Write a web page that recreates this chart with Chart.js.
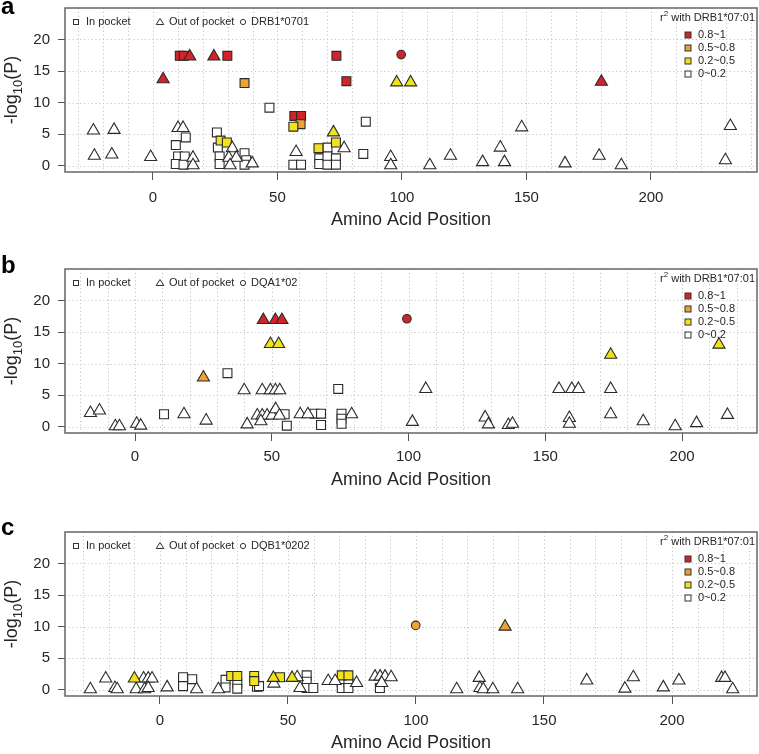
<!DOCTYPE html>
<html>
<head>
<meta charset="utf-8">
<script src="https://cdn.jsdelivr.net/npm/chart.js@4.4.1/dist/chart.umd.min.js"></script>
<style>
html, body { margin: 0; padding: 0; background: #fff; }
#wrap { position: relative; width: 759px; height: 754px; overflow: hidden; }
canvas { position: absolute; left: 0; }
</style>
</head>
<body>
<div id="wrap">
  <canvas id="chartA" width="759" height="245" style="top:0px"></canvas>
  <canvas id="chartB" width="759" height="260" style="top:245px"></canvas>
  <canvas id="chartC" width="759" height="249" style="top:505px"></canvas>
</div>
<script>
const X_TICKS = [0, 50, 100, 150, 200];
const Y_TICKS = [0, 5, 10, 15, 20];
const SHAPE_LABELS = ["In pocket", "Out of pocket"];
const R2_LEGEND = ["0.8~1", "0.5~0.8", "0.2~0.5", "0~0.2"];
const R2_LEVELS = [3, 2, 1, 0];   // r2 class: 3 = 0.8~1, 2 = 0.5~0.8, 1 = 0.2~0.5, 0 = 0~0.2

// ---- panel a : DRB1*0701 ----
const aAllele = "DRB1*0701";
const aPocketPos  = [9.2, 13.2, 10.1, 12.8, 9.2, 12.3, 25.7, 26.1, 26.8, 26.8, 36.8, 37.5, 36.8, 46.8, 56.4, 59.5, 66.8, 66.8, 70.1, 70.1, 70.1, 73.5, 73.5, 84.5, 85.5,
                     10.8, 12.4, 29.9, 56.8, 59.5, 73.7, 77.7, 36.8, 59.3, 56.4, 27.2, 29.7, 66.5, 73.5];
const aPocketLogP = [3.3, 4.5, 1.5, 1.5, 0.3, 0.2, 5.3, 2.9, 1.5, 0.3, 2.0, 0.9, 0.2, 9.2, 0.2, 0.2, 1.2, 0.3, 2.9, 1.5, 0.2, 1.2, 0.2, 1.9, 7.0,
                     17.4, 17.4, 17.4, 7.9, 7.9, 17.4, 13.4, 13.1, 6.6, 6.2, 4.0, 3.7, 2.8, 3.7];
const aPocketR2   = [0, 0, 0, 0, 0, 0, 0, 0, 0, 0, 0, 0, 0, 0, 0, 0, 0, 0, 0, 0, 0, 0, 0, 0, 0,
                     3, 3, 3, 3, 3, 3, 3, 2, 2, 1, 1, 1, 1, 1];
const aOutPos  = [-23.9, -15.6, -23.5, -16.5, -0.9, 10.1, 12.1, 16.1, 16.1, 31.9, 30.5, 33.5, 31.0, 39.9, 57.5, 76.8, 95.5, 95.5, 111.2, 119.5, 132.4, 139.5, 141.2, 148.1, 165.5, 179.2, 188.1, 229.9, 231.9,
                  4.1, 14.8, 24.5, 180.1, 72.5, 97.9, 103.5];
const aOutLogP = [5.6, 5.7, 1.6, 1.8, 1.4, 6.0, 6.0, 1.3, 0.1, 2.8, 1.3, 1.3, 0.1, 0.4, 2.2, 2.8, 1.4, 0.1, 0.1, 1.6, 0.6, 2.9, 0.6, 6.1, 0.4, 1.6, 0.1, 0.9, 6.3,
                  13.7, 17.3, 17.3, 13.3, 5.3, 13.2, 13.2];
const aOutR2   = [0, 0, 0, 0, 0, 0, 0, 0, 0, 0, 0, 0, 0, 0, 0, 0, 0, 0, 0, 0, 0, 0, 0, 0, 0, 0, 0, 0, 0,
                  3, 3, 3, 3, 1, 1, 1];
const aAllelePos = [99.7];
const aAlleleLogP = [17.6];
const aAlleleR2 = [3];

// ---- panel b : DQA1*02 ----
const bAllele = "DQA1*02";
const bPocketPos  = [10.6, 33.8, 54.7, 55.5, 65.6, 68.0, 68.0, 74.3, 75.5, 75.5, 75.5];
const bPocketLogP = [2.0, 8.5, 2.0, 0.2, 2.1, 2.1, 0.3, 6.0, 2.1, 1.3, 0.5];
const bPocketR2   = [0, 0, 0, 0, 0, 0, 0, 0, 0, 0, 0];
const bOutPos  = [-16.3, -13.0, -7.2, -5.7, 0.6, 2.1, 17.9, 26.0, 39.9, 41.0, 46.5, 49.5, 51.3, 52.9, 44.7, 46.5, 48.3, 50.1, 51.4, 52.8, 46.0, 60.4, 63.2, 79.2,
                  101.4, 106.3, 128.0, 129.2, 136.5, 138.0, 155.0, 159.7, 162.1, 158.8, 158.8, 173.9, 173.9, 185.8, 197.5, 205.3, 216.6,
                  46.9, 51.3, 53.7, 25.0, 49.5, 52.5, 173.9, 213.5];
const bOutLogP = [2.2, 2.6, 0.1, 0.1, 0.5, 0.2, 2.0, 1.0, 5.8, 0.4, 5.8, 5.8, 5.8, 5.8, 1.8, 1.8, 1.8, 1.8, 2.8, 1.8, 0.9, 2.0, 2.0, 2.0,
                  0.8, 6.0, 1.5, 0.4, 0.3, 0.5, 6.0, 6.0, 6.0, 1.4, 0.5, 6.0, 2.0, 0.9, 0.1, 0.6, 1.9,
                  16.9, 16.9, 16.9, 7.8, 13.1, 13.1, 11.4, 13.0];
const bOutR2   = [0, 0, 0, 0, 0, 0, 0, 0, 0, 0, 0, 0, 0, 0, 0, 0, 0, 0, 0, 0, 0, 0, 0, 0,
                  0, 0, 0, 0, 0, 0, 0, 0, 0, 0, 0, 0, 0, 0, 0, 0, 0,
                  3, 3, 3, 2, 1, 1, 1, 1];
const bAllelePos = [99.4];
const bAlleleLogP = [17.1];
const bAlleleR2 = [3];

// ---- panel c : DQB1*0202 ----
const cAllele = "DQB1*0202";
const cPocketPos  = [9.0, 9.0, 12.6, 25.6, 25.6, 30.2, 30.2, 37.9, 38.7, 57.3, 57.3, 57.3, 59.9, 71.0, 71.0, 73.6, 73.6, 85.9,
                     27.8, 30.2, 36.8, 36.8, 46.9, 71.0, 73.6];
const cPocketLogP = [2.0, 0.6, 1.7, 1.6, 0.4, 1.0, 0.2, 0.5, 0.6, 2.3, 1.3, 0.3, 0.3, 1.2, 0.3, 1.2, 0.3, 0.3,
                     2.2, 2.2, 2.2, 1.4, 2.0, 2.3, 2.3];
const cPocketR2   = [0, 0, 0, 0, 0, 0, 0, 0, 0, 0, 0, 0, 0, 0, 0, 0, 0, 0,
                     1, 1, 1, 1, 1, 1, 1];
const cOutPos  = [-27.2, -21.2, -17.6, -16.7, -6.4, -4.6, -3.1, -9.3, -6.0, -4.6, 2.8, 14.3, 22.8, 44.5, 53.6, 54.7, 65.7, 68.4, 76.8,
                  84.0, 86.0, 87.9, 90.3, 86.6, 115.9, 124.7, 125.0, 126.3, 130.0, 139.7, 166.7, 181.6, 184.9, 196.6, 202.7, 219.4, 220.7, 223.7,
                  -10.0, 44.3, 51.6, 134.8];
const cOutLogP = [0.1, 1.8, 0.3, 0.1, 1.8, 1.8, 1.8, 0.1, 0.1, 0.3, 0.4, 0.1, 0.1, 1.0, 2.0, 0.3, 1.4, 1.4, 1.1,
                  2.1, 2.1, 2.1, 2.0, 1.1, 0.1, 1.9, 0.3, 0.1, 0.1, 0.1, 1.5, 0.2, 2.0, 0.4, 1.5, 1.9, 1.9, 0.1,
                  1.8, 1.9, 1.9, 10.0];
const cOutR2   = [0, 0, 0, 0, 0, 0, 0, 0, 0, 0, 0, 0, 0, 0, 0, 0, 0, 0, 0,
                  0, 0, 0, 0, 0, 0, 0, 0, 0, 0, 0, 0, 0, 0, 0, 0, 0, 0, 0,
                  1, 1, 1, 2];
const cAllelePos = [99.9];
const cAlleleLogP = [10.2];
const cAlleleR2 = [2];

/* ========================================================= */

const FONT = "'Liberation Sans', Arial, Helvetica, sans-serif";
const R2_COLORS = { 3: "#d2232a", 2: "#eca332", 1: "#f1e21c", 0: "#ffffff" };
const INK = "#262626";
Chart.defaults.font.family = FONT;

const pts = (pos, logP) => pos.map((v, i) => ({ x: v, y: logP[i] }));

function shapeSet(label, style, radius, pos, logP, r2, order){
    return {
        label,
        data: pts(pos, logP),
        pointStyle: style,
        pointRadius: radius,
        pointHoverRadius: radius,
        pointBackgroundColor: r2.map(c => R2_COLORS[c]),
        pointBorderColor: "#2a2a2a",
        pointBorderWidth: 1.1,
        showLine: false,
        order
    };
}

// grid, box, legends, axis title with subscript, panel letter
const decor = {
    id: "decor",
    beforeDatasetsDraw(chart, args, o){
        const { ctx, chartArea: a, scales: { x, y } } = chart;
        ctx.save();
        ctx.strokeStyle = "#c6c6c6";
        ctx.lineWidth = 1;
        ctx.setLineDash([1.2, 2.6]);
        ctx.beginPath();
        for (let v = Math.ceil(x.min / 10) * 10; v <= x.max; v += 10){
            const px = Math.round(x.getPixelForValue(v)) + 0.5;
            ctx.moveTo(px, a.top); ctx.lineTo(px, a.bottom);
        }
        Y_TICKS.forEach(v => {
            const py = Math.round(y.getPixelForValue(v)) + 0.5;
            ctx.moveTo(a.left, py); ctx.lineTo(a.right, py);
        });
        ctx.stroke();
        ctx.setLineDash([]);
        ctx.strokeStyle = "#666";
        ctx.lineWidth = 1.5;
        ctx.strokeRect(a.left, a.top, a.right - a.left, a.bottom - a.top);
        ctx.restore();
    },
    afterDraw(chart, args, o){
        const { ctx, chartArea: a } = chart;
        ctx.save();
        ctx.fillStyle = INK;
        ctx.strokeStyle = "#333";
        ctx.lineWidth = 1;

        // shape legend (top left)
        const ly = a.top + 14;
        ctx.font = "11px " + FONT;
        ctx.textBaseline = "middle";
        ctx.textAlign = "left";
        ctx.strokeRect(73.5, ly - 2.5, 5, 5);
        ctx.fillText(SHAPE_LABELS[0], 86, ly);
        ctx.beginPath();
        ctx.moveTo(160, ly - 3.5); ctx.lineTo(163.8, ly + 2.5); ctx.lineTo(156.2, ly + 2.5); ctx.closePath();
        ctx.stroke();
        ctx.fillText(SHAPE_LABELS[1], 169, ly);
        ctx.beginPath(); ctx.arc(243, ly, 2.6, 0, Math.PI * 2); ctx.stroke();
        ctx.fillText(o.allele, 251, ly);

        // r2 legend (top right)
        const rest = " with DRB1*07:01";
        ctx.font = "11px " + FONT;
        const wr = ctx.measureText("r").width, wRest = ctx.measureText(rest).width;
        ctx.font = "8px " + FONT;
        const w2 = ctx.measureText("2").width;
        let sx = a.right - 2 - (wr + w2 + wRest);
        const ty = a.top + 10;
        ctx.font = "11px " + FONT;
        ctx.fillText("r", sx, ty);
        ctx.font = "8px " + FONT;
        ctx.fillText("2", sx + wr, ty - 4);
        ctx.font = "11px " + FONT;
        ctx.fillText(rest, sx + wr + w2, ty);
        R2_LEGEND.forEach((lab, i) => {
            const yy = a.top + 27 + i * 13;
            ctx.fillStyle = R2_COLORS[R2_LEVELS[i]];
            ctx.fillRect(685, yy - 3, 6, 6);
            ctx.strokeRect(685, yy - 3, 6, 6);
            ctx.fillStyle = INK;
            ctx.fillText(lab, 698, yy);
        });

        // y title  -log10(P)
        const cy = (a.top + a.bottom) / 2;
        ctx.translate(17, cy);
        ctx.rotate(-Math.PI / 2);
        ctx.textBaseline = "alphabetic";
        const parts = [["-log", "18px ", 0], ["10", "13px ", 5], ["(P)", "18px ", 0]];
        let total = 0;
        parts.forEach(p => { ctx.font = p[1] + FONT; total += ctx.measureText(p[0]).width; });
        let tx = -total / 2;
        parts.forEach(p => {
            ctx.font = p[1] + FONT;
            ctx.fillText(p[0], tx, p[2]);
            tx += ctx.measureText(p[0]).width;
        });
        ctx.restore();

        // panel letter
        ctx.save();
        ctx.fillStyle = "#000";
        ctx.font = "bold 24px " + FONT;
        ctx.textBaseline = "alphabetic";
        ctx.fillText(o.letter, 1, o.letterY);
        ctx.restore();
    }
};

function makePanel(id, p){
    return new Chart(document.getElementById(id), {
        type: "scatter",
        data: {
            datasets: [
                shapeSet(p.allele, "circle", 4.3, p.allelePos, p.alleleLogP, p.alleleR2, 0),
                shapeSet(SHAPE_LABELS[1], "triangle", 7, p.outPos, p.outLogP, p.outR2, 1),
                shapeSet(SHAPE_LABELS[0], "rect", 6.3, p.pocketPos, p.pocketLogP, p.pocketR2, 2)
            ]
        },
        options: {
            responsive: false,
            animation: false,
            events: [],
            layout: { autoPadding: false, padding: { top: p.padTop, right: 2, left: 0, bottom: 0 } },
            plugins: {
                legend: { display: false },
                tooltip: { enabled: false },
                decor: { allele: p.allele, letter: p.letter, letterY: p.letterY }
            },
            scales: {
                x: {
                    type: "linear",
                    min: p.xMin, max: p.xMax,
                    afterBuildTicks: s => { s.ticks = X_TICKS.map(v => ({ value: v })); },
                    afterFit: s => { s.height = p.xAxisH; s.paddingLeft = 0; s.paddingRight = 0; },
                    grid: { drawOnChartArea: false, drawTicks: true, tickLength: 8, tickColor: "#555", tickWidth: 1 },
                    border: { display: false },
                    ticks: { font: { size: 15 }, color: INK, padding: p.tickPad, maxRotation: 0, autoSkip: false },
                    title: { display: true, text: "Amino Acid Position", font: { size: 18 }, color: INK, padding: { top: 0, bottom: p.titlePad } }
                },
                y: {
                    min: -0.96, max: 24.96,
                    afterBuildTicks: s => { s.ticks = Y_TICKS.map(v => ({ value: v })); },
                    afterFit: s => { s.width = 65; s.paddingTop = 0; s.paddingBottom = 0; },
                    grid: { drawOnChartArea: false, drawTicks: true, tickLength: 7, tickColor: "#555", tickWidth: 1 },
                    border: { display: false },
                    ticks: { font: { size: 15 }, color: INK, padding: 8 }
                }
            }
        },
        plugins: [decor]
    });
}

makePanel("chartA", {
    allele: aAllele, letter: "a", letterY: 14,
    xMin: -35.3, xMax: 242.6, padTop: 8, xAxisH: 73, titlePad: 14, tickPad: 9,
    pocketPos: aPocketPos, pocketLogP: aPocketLogP, pocketR2: aPocketR2,
    outPos: aOutPos, outLogP: aOutLogP, outR2: aOutR2,
    allelePos: aAllelePos, alleleLogP: aAlleleLogP, alleleR2: aAlleleR2
});
makePanel("chartB", {
    allele: bAllele, letter: "b", letterY: 28,
    xMin: -25.6, xMax: 227.4, padTop: 24, xAxisH: 72, titlePad: 14, tickPad: 7,
    pocketPos: bPocketPos, pocketLogP: bPocketLogP, pocketR2: bPocketR2,
    outPos: bOutPos, outLogP: bOutLogP, outR2: bOutR2,
    allelePos: bAllelePos, alleleLogP: bAlleleLogP, alleleR2: bAlleleR2
});
makePanel("chartC", {
    allele: cAllele, letter: "c", letterY: 30,
    xMin: -37.1, xMax: 233.2, padTop: 27, xAxisH: 58, titlePad: 0, tickPad: 8,
    pocketPos: cPocketPos, pocketLogP: cPocketLogP, pocketR2: cPocketR2,
    outPos: cOutPos, outLogP: cOutLogP, outR2: cOutR2,
    allelePos: cAllelePos, alleleLogP: cAlleleLogP, alleleR2: cAlleleR2
});
</script>
</body>
</html>
